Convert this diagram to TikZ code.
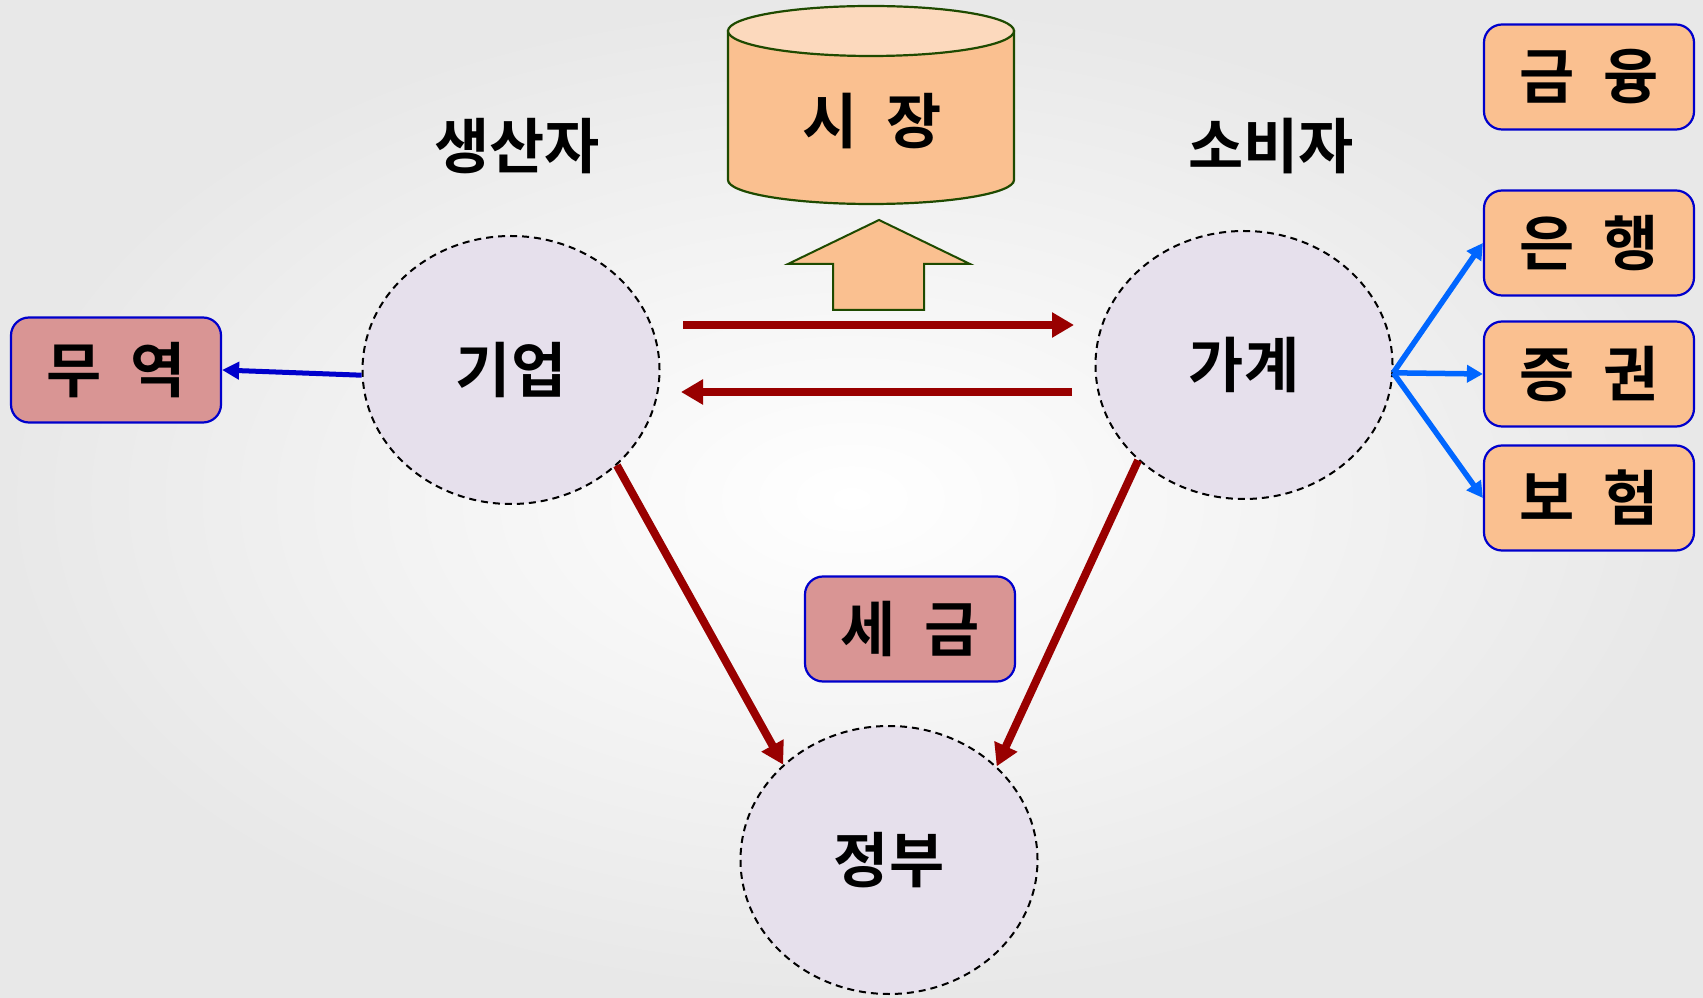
\documentclass[tikz,border=0pt]{standalone}
\usepackage{fontspec}
\usetikzlibrary{arrows.meta,shapes.geometric}
\newfontfamily\kr{Noto Sans CJK KR Bold}[WordSpace=2.1]
\definecolor{lav}{HTML}{E6E0EC}
\definecolor{org}{HTML}{FAC090}
\definecolor{orglt}{HTML}{FCD9BD}
\definecolor{pnk}{HTML}{D99594}
\definecolor{bbord}{HTML}{0000CC}
\definecolor{dred}{HTML}{990000}
\definecolor{lblue}{HTML}{0066FF}
\definecolor{dgreen}{HTML}{1E4A00}
\begin{document}
\begin{tikzpicture}[x=1pt,y=1pt,
  txt/.style={font=\kr\fontsize{60}{66}\selectfont},
  agent/.style={ellipse, draw=black, fill=lav, dashed, dash pattern=on 7pt off 5pt, line width=2pt, minimum width=297pt, minimum height=268pt, inner sep=0pt, txt},
  obox/.style={rectangle, rounded corners=18pt, draw=bbord, line width=2.2pt, fill=org, minimum width=210pt, minimum height=105pt, inner sep=0pt, txt},
  pbox/.style={obox, fill=pnk},
  redarr/.style={draw=dred, line width=8pt, -{Triangle[length=22pt,width=24pt]}},
  bluarr/.style={draw=lblue, line width=5.5pt, -{Triangle[length=16pt,width=17pt]}}
]
\useasboundingbox (0,0) rectangle (1703,997);
\shade[inner color=white, outer color=black!9] (0,0) rectangle (1703,997);

% cylinder
\draw[dgreen, line width=2.2pt, fill=org]
  (728,966) -- (728,817) arc[start angle=180, end angle=360, x radius=143, y radius=24]
  -- (1014,966) -- cycle;
\draw[dgreen, line width=2.2pt, fill=orglt] (871,966) ellipse[x radius=143, y radius=25];
\node[txt] (sijang) at (872,876) {시 장};

% up arrow
\draw[dgreen, line width=2pt, fill=org]
  (879,777) -- (970,733) -- (924,733) -- (924,687) -- (833,687) -- (833,733) -- (788,733) -- cycle;

% labels
\node[txt] (saengsanja) at (517,851) {생산자};
\node[txt] (sobija) at (1271,851) {소비자};

% agents
\node[agent] (giup) at (511,627) {기업};
\node[agent] (gagye) at (1244,632) {가계};
\node[agent] (jeongbu) at (889,137) {정부};

% boxes
\node[pbox] (muyeok) at (116,627) {무 역};
\node[pbox] (segeum) at (910,368) {세 금};
\node[obox] (geumyung) at (1589,920) {금 융};
\node[obox] (eunhaeng) at (1589,754) {은 행};
\node[obox] (jeunggwon) at (1589,623) {증 권};
\node[obox] (boheom) at (1589,499) {보 험};

% market flows
\coordinate (t1) at (683,672);
\coordinate (t2) at (1074,672);
\coordinate (b1) at (1072,605);
\coordinate (b2) at (681,605);
\draw[redarr] (t1) -- (t2);
\draw[redarr] (b1) -- (b2);

% taxes
\draw[redarr] (giup.-42) -- (jeongbu.138);
\draw[redarr] (gagye.222) -- (jeongbu.41);

% trade
\draw[draw=bbord, line width=5pt, -{Triangle[length=17pt,width=17pt]}] (giup.182) -- (muyeok.east);

% finance
\draw[bluarr] (gagye.-3) -- (eunhaeng.west);
\draw[bluarr] (gagye.-3) -- (jeunggwon.west);
\draw[bluarr] (gagye.-3) -- (boheom.west);
\end{tikzpicture}
\end{document}
